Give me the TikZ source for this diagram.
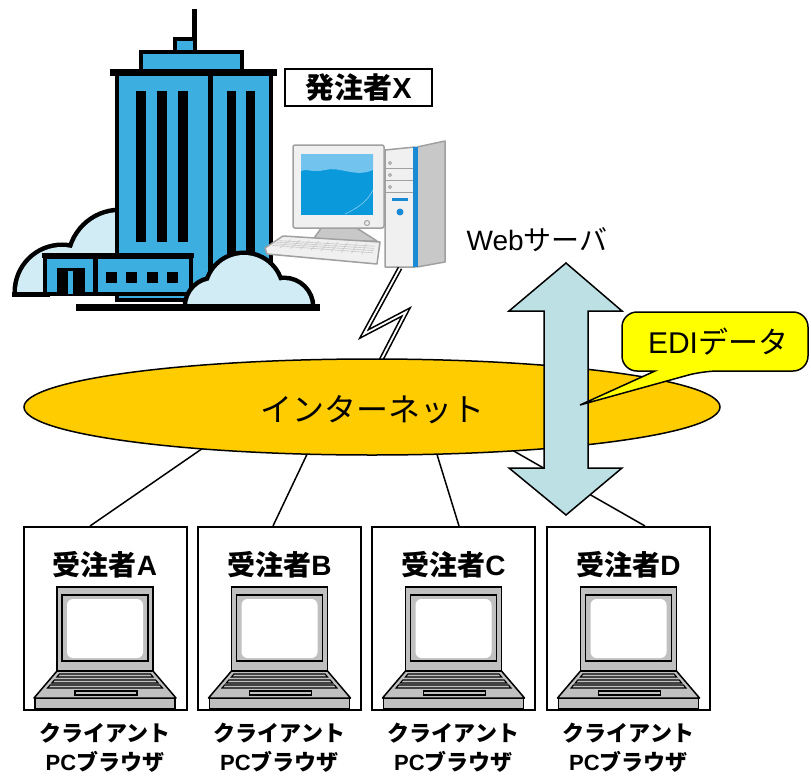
\documentclass[tikz,border=0pt]{standalone}
\usepackage{fontspec}
\setmainfont{Liberation Sans}
\newfontfamily\jp{Noto Sans CJK JP}
\usetikzlibrary{shapes.geometric,calc}

\definecolor{bblue}{HTML}{3DAEE0}
\definecolor{cloudfill}{HTML}{D2ECF6}
\definecolor{netyellow}{HTML}{FFCC00}
\definecolor{arrowfill}{HTML}{BCE0E3}
\definecolor{calloutfill}{HTML}{FFFF00}
\definecolor{lapgray}{HTML}{C0C0C0}
\definecolor{pcedge}{HTML}{A0A0A0}
\definecolor{pcbody}{HTML}{F0F0F0}
\definecolor{pcside}{HTML}{C8C8C8}
\definecolor{screenblue}{HTML}{0A9ADB}
\definecolor{screenlight}{HTML}{72C4EE}
\definecolor{pcblue}{HTML}{1A8AD4}

\tikzset{
  clientbox/.style={draw, line width=2pt, minimum width=163pt, minimum height=183pt, inner sep=0pt},
  boxlabel/.style={font=\bfseries\fontsize{28}{30}\selectfont, inner sep=0pt},
  caption/.style={font=\bfseries\fontsize{22}{24}\selectfont, inner sep=0pt},
  link/.style={line width=1.5pt},
}

% notebook PC centred on x = #1
\newcommand{\notebook}[1]{%
  \begin{scope}[shift={(#1,0)}, line width=1.5pt]
    \filldraw[fill=lapgray] (-70,698) rectangle (70,709);
    \filldraw[fill=lapgray, line join=round] (-48,671) -- (48,671) -- (71,698) -- (-71,698) -- cycle;
    \filldraw[fill=lapgray, line width=1.1pt] (-45.6,674) -- (45.6,674) -- (48.1,677) -- (-48.1,677) -- cycle;
    \filldraw[fill=lapgray, line width=1.1pt] (-50.7,680) -- (50.7,680) -- (53.2,683) -- (-53.2,683) -- cycle;
    \filldraw[fill=lapgray, line width=1.1pt] (-54.9,685) -- (54.9,685) -- (57.5,688) -- (-57.5,688) -- cycle;
    \filldraw[fill=lapgray, line width=1.1pt] (-30,691) rectangle (32,695);
    \filldraw[fill=lapgray] (-48,587) rectangle (48,671);
    \filldraw[fill=lapgray] (-43,595) rectangle (43,661);
    \fill[white, rounded corners=6pt] (-38,599) rectangle (38,658);
  \end{scope}%
}

\begin{document}
\begin{tikzpicture}[x=1pt, y=-1pt]
\useasboundingbox (0,0) rectangle (811,776);

% ---------------- office building ----------------
\begin{scope}[line width=4.5pt, line join=miter]
  % cloud behind the building
  \begin{scope}
    \clip (0,0) rectangle (140,294);
    \draw[line width=9pt] (62,292) circle[radius=45pt] (120,262) circle[radius=50pt];
    \fill[cloudfill] (62,292) circle[radius=45pt] (120,262) circle[radius=50pt];
  \end{scope}
  \fill (12,292) rectangle (50,297);
  % tower
  \filldraw[fill=bblue] (117,74) rectangle (271,300);
  \fill (110,69) rectangle (277,76);
  \filldraw[fill=bblue] (141,52) rectangle (242,71);
  \filldraw[fill=bblue] (175,39) rectangle (195,52);
  \fill (192,9) rectangle (197,40);
  \fill (208,74) rectangle (213,300);
  \foreach \x in {136,157,178} \fill (\x,91) rectangle ++(10,151);
  \foreach \x in {227,246} \fill (\x,91) rectangle ++(9,170);
  % low wing
  \filldraw[fill=bblue] (45,257) rectangle (191,294);
  \fill (42,253) rectangle (194,258);
  \fill (93,257) rectangle (98,294);
  \fill (57,268) rectangle (85,294);
  \fill[bblue] (68,271) rectangle (73,294);
  \foreach \x in {106,126,147,167} \fill (\x,272) rectangle ++(11,11);
  % cloud in front
  \begin{scope}
    \clip (150,200) rectangle (330,306);
    \draw[line width=9pt] (244,292) circle[radius=37pt] (214,307) circle[radius=27pt] (284,307) circle[radius=27pt];
    \fill[cloudfill] (244,292) circle[radius=37pt] (214,307) circle[radius=27pt] (284,307) circle[radius=27pt];
  \end{scope}
  \fill (76,304) rectangle (320,311);
\end{scope}

\node[draw, line width=2pt, minimum width=147pt, minimum height=37pt, inner sep=0pt,
      font=\bfseries\fontsize{29}{31}\selectfont] (client) at (358.5,87.5) {{\jp 発注者}X};

% ---------------- web server PC ----------------
\begin{scope}[line width=1.5pt, draw=pcedge, line join=round]
  % stand
  \filldraw[fill=pcside] (322,227) -- (355,227) -- (377,241) -- (312,241) -- cycle;
  % monitor
  \filldraw[fill=pcbody, rounded corners=2pt] (293,145) rectangle (384,228);
  \fill[screenblue] (301,154) rectangle (373,215);
  \fill[screenlight] (301,154) -- (373,154) -- (373,170)
        .. controls (355,178) and (340,166) .. (325,170)
        .. controls (312,173) and (305,168) .. (301,171) -- cycle;
  \draw[white, line width=0.5pt, opacity=0.6] (345,214) .. controls (360,207) and (368,200) .. (373,190);
  \draw[line width=1pt] (367,223) circle[radius=2.5pt];
  % keyboard
  \filldraw[fill=pcbody] (265,248) -- (283,236) -- (380,242) -- (377,264) -- (267,254) -- cycle;
  \begin{scope}[draw=pcside, line width=0.6pt]
    \foreach \t in {0.2,0.4,0.6,0.8}
      \draw ($(270,247)!\t!(281,239)$) -- ($(372,255)!\t!(376,244)$);
    \foreach \t in {0.1,0.2,...,0.9}
      \draw ($(270,247)!\t!(372,255)$) -- ($(281,239)!\t!(376,244)$);
  \end{scope}
  % tower case
  \filldraw[fill=pcside] (417,147) -- (445,141) -- (445,262) -- (417,267) -- cycle;
  \filldraw[fill=pcbody] (385,150) -- (415,147) -- (415,267) -- (385,267) -- cycle;
  \fill[pcblue] (413,147) rectangle (418,267);
  \draw[line width=1pt] (385,168) -- (413,168) (385,180) -- (413,180) (385,192) -- (413,192);
  \foreach \y in {163,175,187} \draw[line width=0.8pt] (390,\y) circle[radius=1.5pt];
  \fill[pcblue] (392,198) rectangle (408,200.5);
  \fill[pcblue] (400,212) circle[radius=3.5pt];
\end{scope}

\node[font=\fontsize{28}{30}\selectfont, inner sep=0pt] (server) at (537,240) {Web{\jp サーバ}};

% lightning link from the PC down to the network
\coordinate (z0) at (400,268);
\coordinate (z1) at (364,334);
\coordinate (z2) at (406,312);
\coordinate (z3) at (380,362);
\draw[line width=5pt, line join=miter] (z0) -- (z1) -- (z2) -- (z3);
\draw[white, line width=1.8pt, line join=miter] (z0) -- (z1) -- (z2) -- (z3);

% ---------------- client boxes ----------------
\node[clientbox] (boxA) at (105,618.5) {};
\node[clientbox] (boxB) at (279.5,618.5) {};
\node[clientbox] (boxC) at (453.5,618.5) {};
\node[clientbox] (boxD) at (628.5,618.5) {};

% links from the network to each client
\coordinate (e1) at (206,446);
\coordinate (e2) at (310,448);
\coordinate (e3) at (435,448);
\coordinate (e4) at (505,446);
\draw[link] (e1) -- ([xshift=-15pt]boxA.north);
\draw[link] (e2) -- ([xshift=-6.5pt]boxB.north);
\draw[link] (e3) -- ([xshift=5.5pt]boxC.north);
\draw[link] (e4) -- ([xshift=16.5pt]boxD.north);

% internet
\node[ellipse, draw, line width=1.5pt, fill=netyellow, minimum width=696pt, minimum height=96pt,
      inner sep=0pt] (net) at (372,407) {};
\node[font=\jp\fontsize{32}{34}\selectfont, inner sep=0pt] (netlabel) at (372,410) {インターネット};

% data exchange arrow
\filldraw[fill=arrowfill, line width=1.5pt, line join=miter]
  (566,263) -- (622,311) -- (588,311) -- (588,468) -- (622,468) -- (566,515)
  -- (509,468) -- (544,468) -- (544,311) -- (509,311) -- cycle;

% callout
\filldraw[fill=calloutfill, line width=1.5pt, rounded corners=15pt]
  (622,341) -- (622,312) -- (808,312) -- (808,371) -- (703,371)
  [sharp corners] -- (580,405) -- (655,371) [rounded corners=15pt] -- (622,371) -- cycle;
\node[font=\fontsize{30}{32}\selectfont, inner sep=0pt] (edi) at (718,342) {EDI{\jp データ}};

% notebooks and labels
\foreach \b/\x/\l in {boxA/105/A, boxB/279.5/B, boxC/453.5/C, boxD/628.5/D}{
  \notebook{\x}
  \node[boxlabel] (\b-name) at (\x,565) {{\jp 受注者}\l};
  \node[caption] (\b-cap1) at (\x,733) {{\jp クライアント}};
  \node[caption] (\b-cap2) at (\x,762) {PC{\jp ブラウザ}};
}
\end{tikzpicture}
\end{document}
